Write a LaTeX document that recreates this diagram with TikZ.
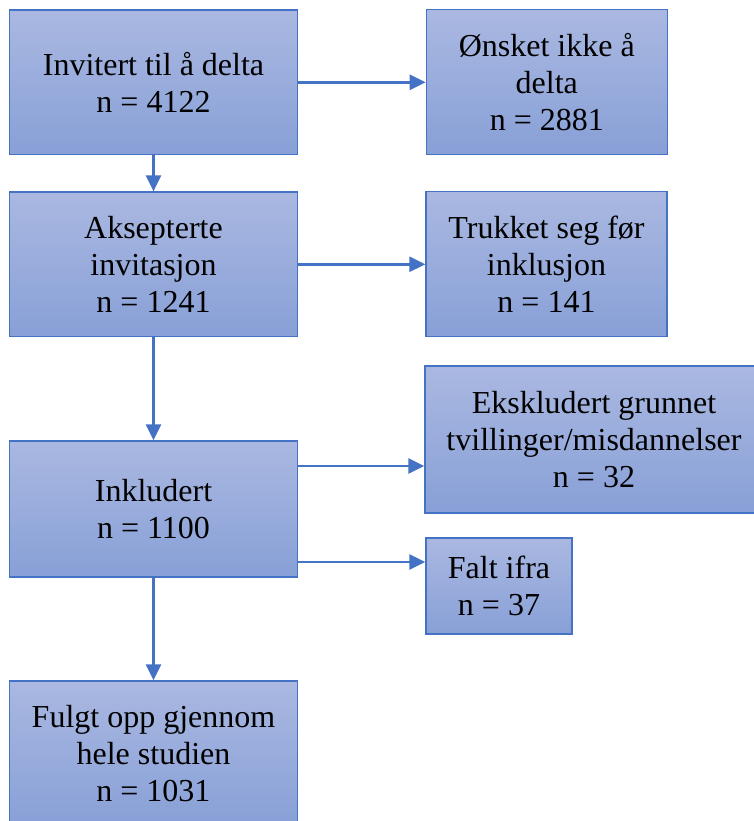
\documentclass[tikz,border=0pt]{standalone}
\usepackage{fontspec}
\setmainfont{Liberation Serif}
\usetikzlibrary{arrows.meta}
\definecolor{boxTop}{RGB}{170,184,225}
\definecolor{boxBottom}{RGB}{136,160,215}
\definecolor{mainBlue}{RGB}{68,114,196}

\begin{document}
\begin{tikzpicture}[x=1pt, y=-1pt,
    box/.style={draw=mainBlue, line width=1.3pt, top color=boxTop, bottom color=boxBottom,
        inner sep=0pt, align=center, font=\fontsize{32}{36.8}\selectfont},
    arr/.style={mainBlue, line width=2.6pt, -{Triangle[length=16pt, width=15pt]}}]
    \useasboundingbox (0,0) rectangle (754,821);

    % main column
    \node[box, minimum width=288pt, minimum height=144.5pt] (invitert) at (153.5,82.3) {Invitert til å delta\\n = 4122};
    \node[box, minimum width=288pt, minimum height=144.5pt] (aksept) at (153.5,264.3) {Aksepterte\\invitasjon\\n = 1241};
    \node[box, minimum width=288pt, minimum height=136pt] (inkl) at (153.5,509) {Inkludert\\n = 1100};
    \node[box, minimum width=288pt, minimum height=145pt] (fulgt) at (153.5,753.5) {Fulgt opp gjennom\\hele studien\\n = 1031};

    % side boxes
    \node[box, minimum width=241pt, minimum height=145pt] (onsket) at (546.8,82.3) {Ønsket ikke å\\delta\\n = 2881};
    \node[box, minimum width=241pt, minimum height=145pt] (trukket) at (546.5,264.3) {Trukket seg før\\inklusjon\\n = 141};
    \node[box, minimum width=338pt, minimum height=147pt] (ekskl) at (594,439.5) {Ekskludert grunnet\\tvillinger/misdannelser\\n = 32};
    \node[box, minimum width=146pt, minimum height=96pt] (falt) at (499,586) {Falt ifra\\n = 37};

    % heights of the two arrows out of Inkludert
    \coordinate (e1) at (0,466);
    \coordinate (e2) at (0,562);

    \draw[arr] (invitert.south) -- (aksept.north);
    \draw[arr] (aksept.south) -- (inkl.north);
    \draw[arr] (inkl.south) -- (fulgt.north);
    \draw[arr] (invitert.east) -- (onsket.west);
    \draw[arr] (aksept.east) -- (trukket.west);
    \draw[arr] (inkl.east |- e1) -- (ekskl.west |- e1);
    \draw[arr] (inkl.east |- e2) -- (falt.west |- e2);
\end{tikzpicture}
\end{document}
